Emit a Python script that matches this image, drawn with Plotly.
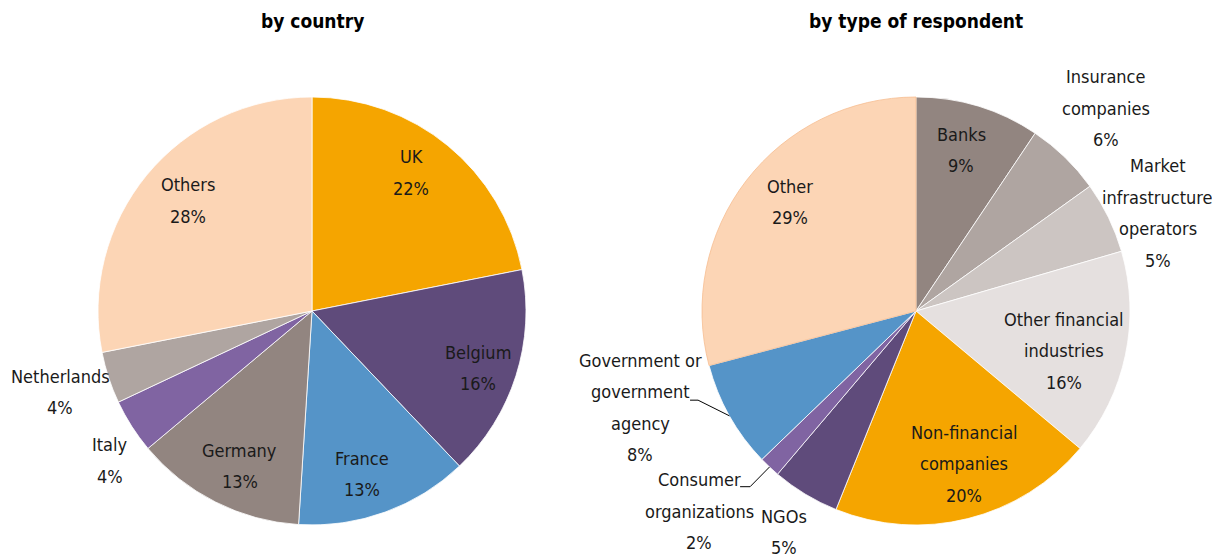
import math
import plotly.graph_objects as go

# page is 1220x560; the html body has an 8px margin, so the figure is 1212x552
W, H = 1220, 560
OFF = 8
FW, FH = W - OFF, H - OFF

# ---------------- data ----------------
country_labels = ["UK", "Belgium", "France", "Germany", "Italy", "Netherlands", "Others"]
country_values = [21.9, 16.0, 13.1, 12.9, 4.1, 3.9, 28.1]

resp_labels = ["Banks", "Insurance companies", "Market infrastructure operators",
               "Other financial industries", "Non-financial companies", "NGOs",
               "Consumer organizations", "Government or government agency", "Other"]
resp_values = [9.4, 5.7, 5.4, 15.6, 20.0, 5.1, 1.6, 8.1, 29.1]

titles = ["by country", "by type of respondent"]

# ---------------- style ----------------
FONT = "DejaVu Sans Condensed, Liberation Sans Narrow, Arial Narrow, sans-serif"
TXT = "#1a1a1a"
ORANGE, DPURPLE, BLUE, TAUPE, PURPLE = "#F5A500", "#5F4B7B", "#5594C8", "#928580", "#8064A2"
GREY1, GREY2, GREY3, PEACH = "#AFA5A1", "#CCC5C2", "#E5E0DF", "#FCD5B5"

country_colors = [ORANGE, DPURPLE, BLUE, TAUPE, PURPLE, GREY1, PEACH]
resp_colors = [TAUPE, GREY1, GREY2, GREY3, ORANGE, DPURPLE, PURPLE, BLUE, PEACH]
resp_line_colors = ["white"] * 8 + ["#F6BE92"]

# label display lines (line breaks only)
country_disp = ["UK", "Belgium", "France", "Germany", "Italy", "Netherlands", "Others"]
resp_disp = ["Banks", "Insurance<br>companies", "Market<br>infrastructure<br>operators",
             "Other financial<br>industries", "Non-financial<br>companies", "NGOs",
             "Consumer<br>organizations", "Government or<br>government<br>agency", "Other"]

# label placement: radius factor, angle nudge (deg) relative to slice middle
country_rf = [0.796, 0.821, 0.797, 0.800, 1.173, 1.236, 0.778]
country_da = [-3.7, 1.3, 2.8, -1.8, -4.0, 0.4, 2.2]
resp_rf = [0.781, 1.299, 1.220, 0.716, 0.749, 1.203, 1.379, 1.366, 0.778]
resp_da = [-1.3, -1.0, 3.85, 3.2, -3.4, -0.2, 4.1, 10.1, 3.3]

# leader lines: slice index -> (elbow dx, elbow dy, horizontal length) in px
resp_leaders = {6: (-19.4, 19.7, -10), 7: (-31.4, -15.7, -8)}

# pie geometry (page px)
R = 214
centers = [(312, 311), (916, 311)]
LINE_H = 31.5
FS = 18
TITLE_FS = 19


def px2paper(x, y):
    return (x - OFF) / FW, 1 - (y - OFF) / FH


fig = go.Figure()
annotations = []
shapes = []

pies = [
    (country_labels, country_values, country_colors, ["white"] * 7, country_disp, country_rf, country_da, {}),
    (resp_labels, resp_values, resp_colors, resp_line_colors, resp_disp, resp_rf, resp_da, resp_leaders),
]

for k, (labs, vals, cols, lcols, disp, rfs, das, leaders) in enumerate(pies):
    cx, cy = centers[k]
    x0p, y0p = px2paper(cx - R, cy + R)
    x1p, y1p = px2paper(cx + R, cy - R)
    fig.add_trace(go.Pie(
        labels=labs, values=vals, sort=False, direction="clockwise", rotation=0,
        marker=dict(colors=cols, line=dict(color=lcols, width=0.8)),
        textinfo="none", hoverinfo="label+percent", showlegend=False,
        domain=dict(x=[x0p, x1p], y=[y0p, y1p]),
    ))
    total = sum(vals)
    cum = 0.0
    for i, v in enumerate(vals):
        mid = (cum + v / 2) / total * 360
        cum += v
        pct = f"{round(v / total * 100)}%"
        lines = disp[i].split("<br>") + [pct]
        ang = math.radians(mid + das[i])
        lx = cx + R * rfs[i] * math.sin(ang)
        ly = cy - R * rfs[i] * math.cos(ang)
        n = len(lines)
        for j, t in enumerate(lines):
            yy = ly + (j - (n - 1) / 2) * LINE_H
            px_, py_ = px2paper(lx, yy)
            annotations.append(dict(x=px_, y=py_, xref="paper", yref="paper", text=t,
                                    showarrow=False, xanchor="center", yanchor="middle",
                                    font=dict(family=FONT, size=FS, color=TXT)))
        if i in leaders:
            ex, ey, hl = leaders[i]
            a = math.radians(mid)
            sx, sy = cx + R * math.sin(a), cy - R * math.cos(a)
            bx, by = sx + ex, sy + ey
            pts = [(sx, sy), (bx, by), (bx + hl, by)]
            for (xa, ya), (xb, yb) in zip(pts[:-1], pts[1:]):
                a0, b0 = px2paper(xa, ya)
                a1, b1 = px2paper(xb, yb)
                shapes.append(dict(type="line", xref="paper", yref="paper",
                                   x0=a0, y0=b0, x1=a1, y1=b1,
                                   line=dict(color="black", width=1)))
    tx, ty = px2paper(cx, 21)
    annotations.append(dict(x=tx, y=ty, xref="paper", yref="paper",
                            text=f"<b>{titles[k]}</b>", showarrow=False,
                            xanchor="center", yanchor="middle",
                            font=dict(family=FONT, size=TITLE_FS, color="black")))

fig.update_layout(
    width=FW, height=FH, margin=dict(l=0, r=0, t=0, b=0),
    paper_bgcolor="white", plot_bgcolor="white",
    annotations=annotations, shapes=shapes,
)

fig.write_html("out.html")
